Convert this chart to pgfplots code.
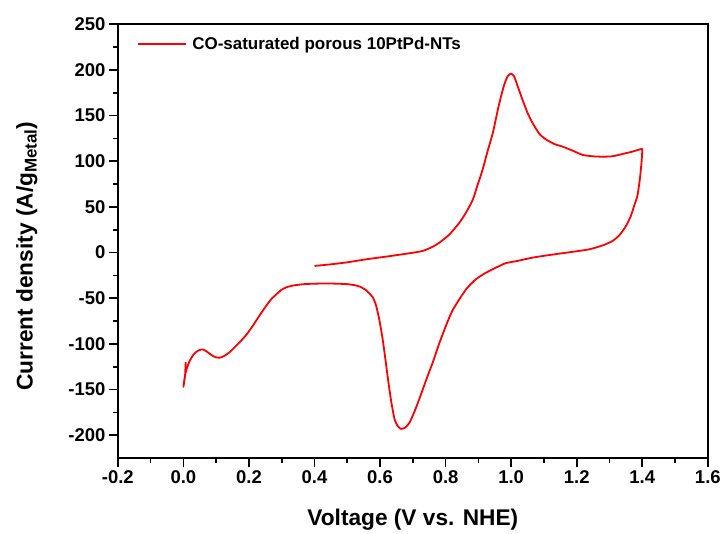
\documentclass[border=0pt]{standalone}
\usepackage{fontspec}
\setmainfont{Liberation Sans}
\usepackage{pgfplots}
\pgfplotsset{compat=1.18}

\begin{document}
\begin{tikzpicture}
\begin{axis}[
  scale only axis,
  width=590.7pt, height=434.4pt,
  xmin=-0.2, xmax=1.6, ymin=-225, ymax=250,
  xtick={-0.2,0,...,1.6}, ytick={-200,-150,...,250},
  minor x tick num=1, minor y tick num=1,
  tick pos=left, tick align=outside,
  major tick length=9pt, minor tick length=4.5pt,
  every tick/.style={black, line width=1.7pt},
  axis line style={line width=1.8pt},
  /pgf/number format/assume math mode=true,
  tick label style={font=\fontsize{18.5}{21}\selectfont\bfseries},
  xticklabel style={/pgf/number format/.cd, fixed, fixed zerofill, precision=1},
  yticklabel style={/pgf/number format/.cd, fixed, precision=0},
  label style={font=\fontsize{22.7}{26}\selectfont\bfseries},
  xlabel={Voltage (V vs. NHE)},
  ylabel={Current density (A/g\raisebox{-0.35ex}{\fontsize{17}{17}\selectfont Metal})},
  xlabel style={at={(axis description cs:0.5,-0.155)}, anchor=base},
  ylabel style={at={(axis description cs:-0.1545,0.4655)}, anchor=center},
  legend style={draw=none, fill=none, inner sep=0pt,
    at={(axis description cs:0.0331,0.954)}, anchor=west,
    nodes={inner xsep=5pt},
    font=\fontsize{17}{20}\selectfont\bfseries},
  legend image code/.code={\draw[#1] (0pt,0pt) -- (48pt,0pt);},
]
\addplot[red, line width=1.8pt, line join=round, smooth, tension=0.35] coordinates {
(0.400,-14.6) (0.450,-12.8) (0.500,-10.6) (0.558,-7.3) (0.620,-4.3)
(0.680,-1.2) (0.730,1.8) (0.761,6.5) (0.781,10.9) (0.812,20.0)
(0.842,32.7) (0.862,43.7) (0.883,58.0) (0.898,74.6) (0.913,91.0)
(0.928,111.0) (0.944,131.0) (0.959,156.0) (0.969,171.0) (0.979,184.0)
(0.989,193.0) (0.999,196.0) (1.009,193.0) (1.020,182.0) (1.035,167.0)
(1.050,153.0) (1.065,142.0) (1.086,130.0) (1.106,124.0) (1.131,119.0)
(1.157,116.0) (1.187,111.7) (1.218,107.0) (1.248,105.5) (1.279,105.0)
(1.309,105.5) (1.340,108.0) (1.370,110.6) (1.398,113.5)
(1.400,112.0) (1.398,100.0) (1.394,85.0) (1.391,76.0) (1.385,62.0)
(1.375,51.0) (1.365,40.0) (1.350,29.0) (1.330,19.0) (1.309,12.7)
(1.280,8.0) (1.238,3.6) (1.190,1.0) (1.147,-1.1) (1.100,-3.5)
(1.065,-5.5) (1.045,-7.0) (1.020,-9.0) (0.984,-11.5) (0.964,-14.6)
(0.923,-22.0) (0.893,-29.0) (0.865,-39.0) (0.842,-51.0) (0.820,-64.0)
(0.801,-80.0) (0.780,-100.0) (0.761,-120.0) (0.740,-140.0) (0.720,-160.0)
(0.705,-174.0) (0.690,-186.0) (0.677,-191.5) (0.664,-193.0) (0.654,-190.0)
(0.644,-182.0) (0.634,-163.0) (0.624,-138.0) (0.616,-116.0) (0.608,-95.0)
(0.598,-74.0) (0.588,-58.0) (0.578,-49.0) (0.568,-45.0) (0.555,-40.5)
(0.537,-37.0) (0.527,-36.0) (0.500,-34.5) (0.446,-33.8) (0.400,-34.0)
(0.365,-34.6) (0.335,-36.0) (0.314,-38.0) (0.298,-41.0) (0.284,-45.5)
(0.268,-51.0) (0.253,-58.0) (0.232,-69.0) (0.212,-80.0) (0.192,-90.0)
(0.172,-98.0) (0.155,-104.0) (0.141,-109.0) (0.125,-113.0) (0.111,-115.0)
(0.098,-114.5) (0.085,-112.0) (0.072,-108.5) (0.060,-106.0) (0.050,-106.5)
(0.040,-108.5) (0.030,-112.0) (0.020,-118.0) (0.012,-125.0) (0.007,-131.0)
(0.003,-139.0) (0.000,-147.0) (0.003,-140.0) (0.005,-135.0) (0.007,-120.0)
};
\addlegendentry{CO-saturated porous 10PtPd-NTs}
\end{axis}
\path ([shift={(-118pt,-73.3pt)}]current axis.south west)
  rectangle ([shift={(15.3pt,24.3pt)}]current axis.north east);
\end{tikzpicture}
\end{document}
